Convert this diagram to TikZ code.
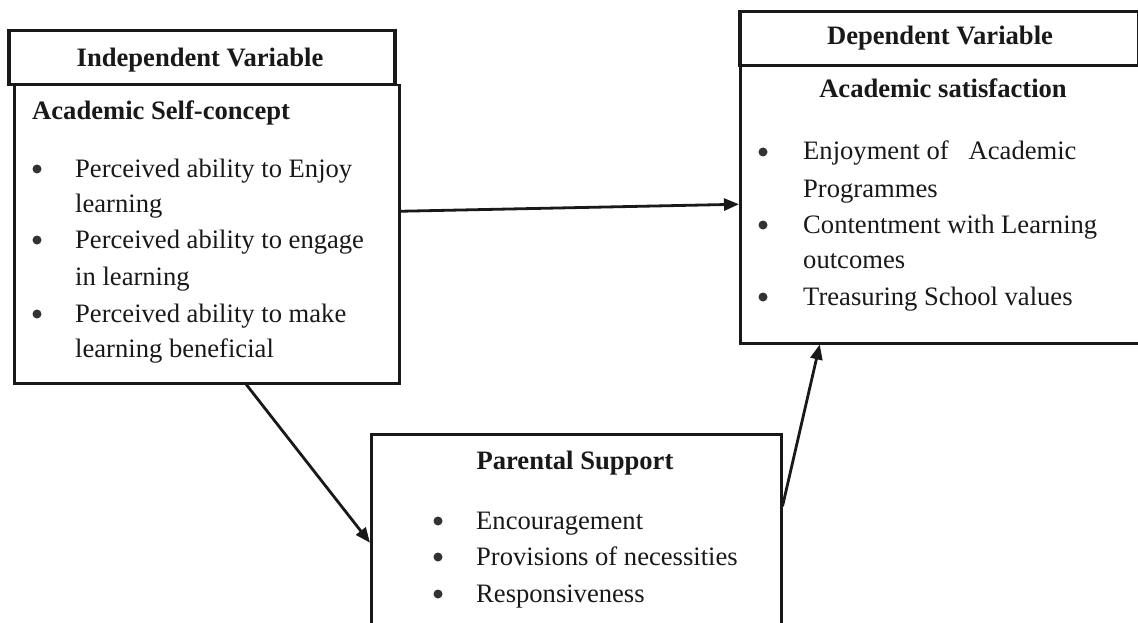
\documentclass[tikz,border=0pt]{standalone}
\usepackage{fontspec}
\setmainfont{Liberation Serif}
\usetikzlibrary{arrows.meta,calc}
\tikzset{
  x=1pt,y=-1pt,
  mainbox/.style={draw=black!90,line width=2.5pt,fill=none,anchor=north west,inner sep=0pt,rectangle},
  headbox/.style={draw=black!90,line width=3.5pt,anchor=north west,inner sep=0pt,rectangle},
  txt/.style={inner sep=0pt,anchor=base west,font=\fontsize{26.6}{36}\selectfont,text=black!90},
  hd/.style={inner sep=0pt,anchor=base,font=\fontsize{26.6}{36}\selectfont\bfseries,text=black!90},
  sub/.style={inner sep=0pt,anchor=base west,font=\fontsize{26.6}{36}\selectfont\bfseries,text=black!90},
  bul/.style={circle,fill=black!80,draw=none,inner sep=0pt,minimum size=9pt},
  arr/.style={draw=black!90,line width=2.8pt,-{Triangle[length=15pt,width=12pt]}}
}
\begin{document}
\begin{tikzpicture}
\clip (0,0) rectangle (1138,623);
\fill[white] (0,0) rectangle (1138,623);
% boxes
\node[mainbox,minimum width=385pt,minimum height=298pt] (lb) at (13,84) {};
\node[headbox,minimum width=386pt,minimum height=54pt] (lh) at (7,29) {};
\node[mainbox,minimum width=407pt,minimum height=278pt] (rb) at (739,64) {};
\node[headbox,minimum width=399pt,minimum height=54pt] (rh) at (738,10) {};
\node[mainbox,minimum width=410pt,minimum height=217pt] (bb) at (370,433) {};
% left texts
\node[hd] (lht) at (200,67) {Independent Variable};
\node[sub] (lsub) at (32,120) {Academic Self-concept};
\node[bul] (lb1) at (37,169) {};
\node[txt] (l1a) at (75,177) {Perceived ability to Enjoy};
\node[txt] (l1b) at (75,212) {learning};
\node[bul] (lb2) at (37,240) {};
\node[txt] (l2a) at (75,248) {Perceived ability to engage};
\node[txt] (l2b) at (75,285) {in learning};
\node[bul] (lb3) at (37,314) {};
\node[txt] (l3a) at (75,322) {Perceived ability to make};
\node[txt] (l3b) at (75,357) {learning beneficial};
% right texts
\node[hd] (rht) at (940,45) {Dependent Variable};
\node[hd] (rsub) at (943,98) {Academic satisfaction};
\node[bul] (rb1) at (763,152) {};
\node[txt] (r1a) at (803,160) {Enjoyment of \ \ Academic};
\node[txt] (r1b) at (803,197) {Programmes};
\node[bul] (rb2) at (763,225) {};
\node[txt] (r2a) at (803,233) {Contentment with Learning};
\node[txt] (r2b) at (803,268) {outcomes};
\node[bul] (rb3) at (763,297) {};
\node[txt] (r3a) at (803,305) {Treasuring School values};
% bottom texts
\node[hd] (bht) at (575,469) {Parental Support};
\node[bul] (bb1) at (438,521) {};
\node[txt] (b1) at (476,529) {Encouragement};
\node[bul] (bb2) at (438,557) {};
\node[txt] (b2) at (476,565) {Provisions of necessities};
\node[bul] (bb3) at (438,594) {};
\node[txt] (b3) at (476,602) {Responsiveness};
% arrows
\draw[arr] ([yshift=23pt]lb.east) -- ([yshift=0pt]rb.west);
\draw[arr] ([xshift=39.5pt]lb.south) -- (bb.west);
\draw[arr] ([yshift=36.5pt]bb.east) -- ([xshift=-124pt]rb.south);
\end{tikzpicture}
\end{document}
